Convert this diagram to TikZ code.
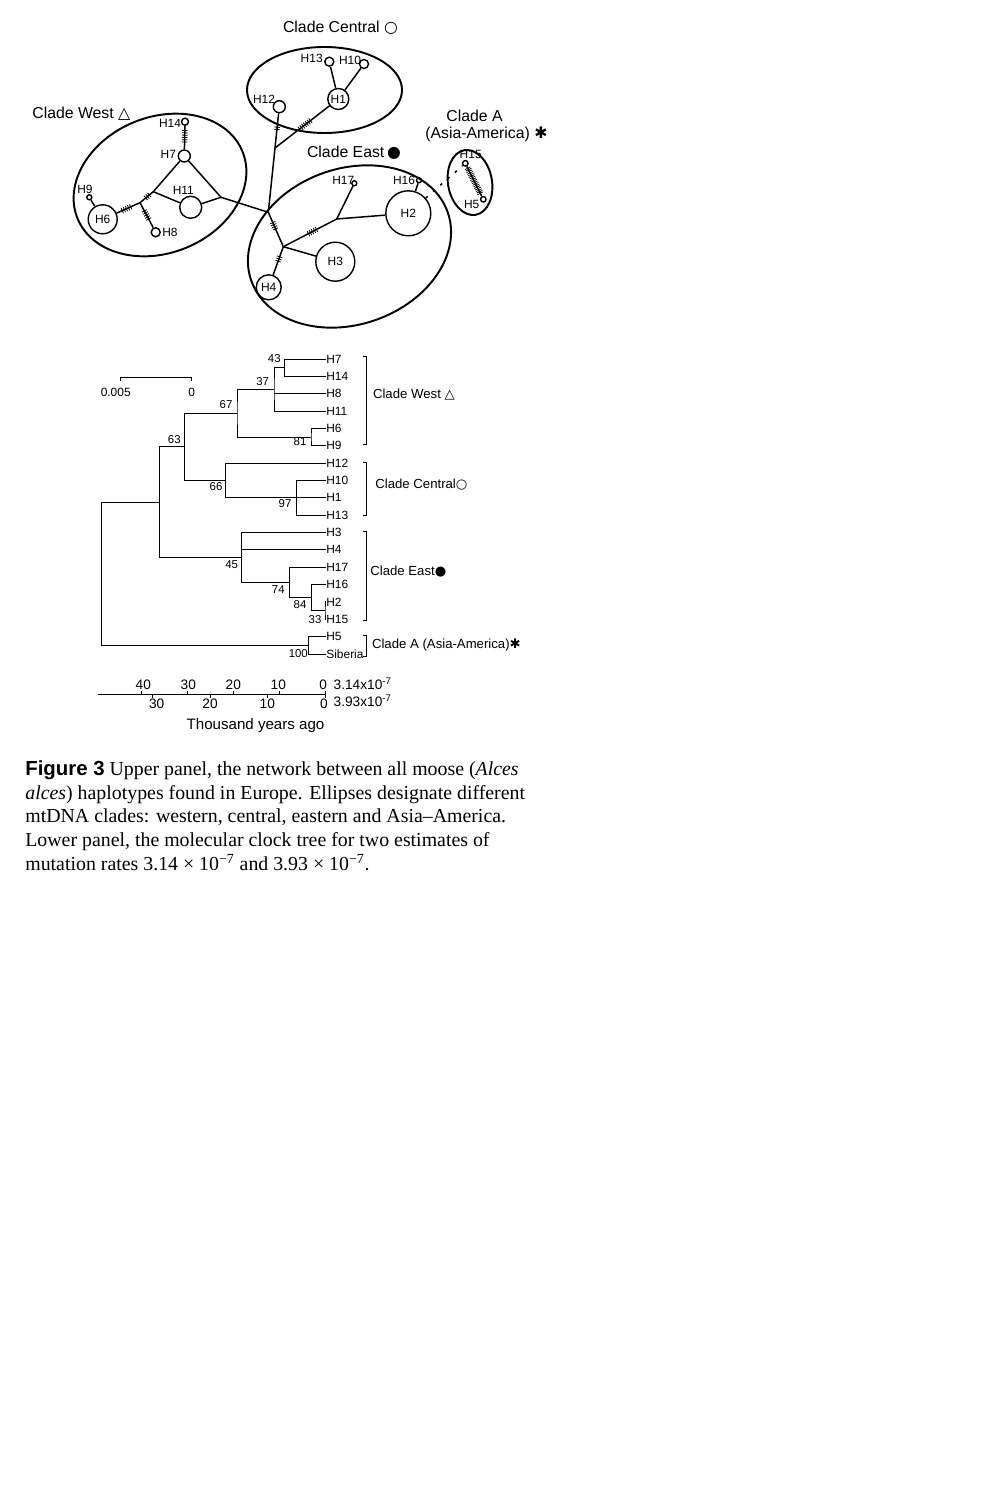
\documentclass[tikz,border=0pt]{standalone}
\usepackage{fontspec}
\setmainfont{Liberation Sans}
\setsansfont{Liberation Sans}
\newfontfamily\capfont{Liberation Serif}
\newfontfamily\symfont{DejaVu Sans}
\usetikzlibrary{calc}
\usetikzlibrary{decorations.markings}

\tikzset{mut/.style 2 args={postaction={decorate, decoration={markings,
  mark=between positions #1 and #2 step 1.3pt with {\draw[line width=0.45pt] (0,-1.6pt) -- (0,1.6pt);}}}}}
\tikzset{mutdense/.style={postaction={decorate, decoration={markings,
  mark=between positions 0.06 and 0.94 step 1pt with {\draw[line width=0.4pt] (0,-1.8pt) -- (0,1.8pt);}}}}}

\begin{document}
\begin{tikzpicture}[x=0.02cm, y=-0.02cm]

\tikzstyle{hap}=[circle, draw, line width=0.8pt, inner sep=0pt, font=\fontsize{6.8}{8}\selectfont]
\tikzstyle{hlab}=[inner sep=0pt, font=\fontsize{6.8}{8}\selectfont]
\tikzstyle{clade}=[inner sep=0pt, anchor=west, font=\fontsize{9}{11}\selectfont]
\tikzstyle{tclade}=[inner sep=0pt, anchor=west, font=\fontsize{7.5}{9}\selectfont]
\tikzstyle{link}=[line width=0.85pt]
\tikzstyle{ring}=[line width=1.1pt]
\tikzstyle{leaf}=[inner sep=0pt, anchor=west, font=\fontsize{6.8}{8}\selectfont]
\tikzstyle{boot}=[inner sep=0pt, font=\fontsize{6.5}{8}\selectfont]
\tikzstyle{branch}=[line width=0.5pt]
\tikzstyle{axislab}=[inner sep=0pt, font=\fontsize{7.8}{9}\selectfont]

\useasboundingbox (0,0) rectangle (1000,1500);

% clade ellipses
\draw[ring] (324.5,90) ellipse [x radius=77.5, y radius=43];
\draw[ring, rotate around={22:(160,185)}] (160,185) ellipse [x radius=89, y radius=68];
\draw[ring, rotate around={19:(349.5,246.5)}] (349.5,246.5) ellipse [x radius=104, y radius=78];
\draw[ring, rotate around={10:(470,182.5)}] (470,182.5) ellipse [x radius=22, y radius=32.8];

% median joining points
\coordinate (J0) at (268.3,212.3);
\coordinate (J1) at (275,148);
\coordinate (W1) at (153.3,191.7);
\coordinate (W2) at (221,197.3);
\coordinate (W3) at (140,202.7);
\coordinate (E1) at (336.7,219);
\coordinate (E2) at (283.3,246.7);

% haplotypes
\path
(329.3,61.7) node[hap, minimum size=0.18cm](H13) {}
(364,64) node[hap, minimum size=0.18cm](H10) {}
(338.3,99) node[hap, minimum size=0.42cm](H1) {H1}
(279.3,106.7) node[hap, minimum size=0.24cm](H12) {}
(185,121.7) node[hap, minimum size=0.14cm](H14) {}
(184.3,156) node[hap, minimum size=0.24cm](H7) {}
(190.7,207.3) node[hap, minimum size=0.44cm](H11) {}
(102.7,219.3) node[hap, minimum size=0.58cm](H6) {H6}
(155.7,232.3) node[hap, minimum size=0.18cm](H8) {}
(89.3,197.3) node[hap, minimum size=0.1cm](H9) {}
(354.3,183.3) node[hap, minimum size=0.1cm](H17) {}
(419,180.3) node[hap, minimum size=0.1cm](H16) {}
(408.3,213.3) node[hap, minimum size=0.9cm](H2) {H2}
(335.3,261.7) node[hap, minimum size=0.78cm](H3) {H3}
(268.7,287.3) node[hap, minimum size=0.5cm](H4) {H4}
(465.3,163.3) node[hap, minimum size=0.11cm](H15) {}
(483.3,199.3) node[hap, minimum size=0.11cm](H5) {};

\path
(311.7,58.3) node[hlab](lH13) {H13}
(350,60.7) node[hlab](lH10) {H10}
(264,99) node[hlab](lH12) {H12}
(170,123.3) node[hlab](lH14) {H14}
(168.3,154.3) node[hlab](lH7) {H7}
(183.3,190) node[hlab](lH11) {H11}
(85,189.3) node[hlab](lH9) {H9}
(170,232.3) node[hlab](lH8) {H8}
(343.3,180) node[hlab](lH17) {H17}
(404,180.7) node[hlab](lH16) {H16}
(470.7,154.3) node[hlab](lH15) {H15}
(471.7,204) node[hlab](lH5) {H5};

\path
(32,114) node[clade](cWest) {Clade West {\symfont △}}
(282.7,27.3) node[clade](cCentral) {Clade Central {\symfont ○}}
(306.7,152.7) node[clade](cEast) {Clade East\,{\symfont ●}}
(474.5,116) node[clade, anchor=center](cA) {Clade A}
(425,134) node[clade](cAsia) {(Asia-America) {\symfont ✱}};

% network links
\draw[link] (H13) -- (H1);
\draw[link] (H10) -- (H1);
\draw[link, mut={0.35}{0.55}] (H1) -- (J1);
\draw[link, mut={0.4}{0.5}] (H12) -- (J1);
\draw[link] (J1) -- (J0);
\draw[link, mut={0.2}{0.7}] (H14) -- (H7);
\draw[link] (H7) -- (W1);
\draw[link] (H7) -- (W2);
\draw[link] (W1) -- (H11);
\draw[link] (H11) -- (W2);
\draw[link] (W2) -- (J0);
\draw[link, mut={0.3}{0.6}] (W1) -- (W3);
\draw[link, mut={0.4}{0.8}] (W3) -- (H6);
\draw[link, mut={0.33}{0.67}] (W3) -- (H8);
\draw[link] (H9) -- (H6);
\draw[link, mut={0.3}{0.52}] (J0) -- (E2);
\draw[link, mut={0.47}{0.64}] (E2) -- (E1);
\draw[link] (E1) -- (H17);
\draw[link] (E1) -- (H2);
\draw[link] (H16) -- (H2);
\draw[link] (E2) -- (H3);
\draw[link, mut={0.36}{0.58}] (E2) -- (H4);
\draw[link, mutdense] (H15) -- (H5);
\draw[link, dash pattern=on 1.5pt off 4pt] (H2) -- (H15);

% tree leaves
\path
(326,359) node[leaf](tH7) {H7}
(326,376.35) node[leaf](tH14) {H14}
(326,393.7) node[leaf](tH8) {H8}
(326,411.05) node[leaf](tH11) {H11}
(326,428.4) node[leaf](tH6) {H6}
(326,445.75) node[leaf](tH9) {H9}
(326,463.1) node[leaf](tH12) {H12}
(326,480.45) node[leaf](tH10) {H10}
(326,497.8) node[leaf](tH1) {H1}
(326,515.15) node[leaf](tH13) {H13}
(326,532.5) node[leaf](tH3) {H3}
(326,549.85) node[leaf](tH4) {H4}
(326,567.2) node[leaf](tH17) {H17}
(326,584.55) node[leaf](tH16) {H16}
(326,601.9) node[leaf](tH2) {H2}
(326,619.25) node[leaf](tH15) {H15}
(326,636.6) node[leaf](tH5) {H5}
(326,653.95) node[leaf](tSib) {Siberia};

% tree splits
\coordinate (n43) at (284.3,367.7);
\coordinate (n37) at (274,389.4);
\coordinate (n81) at (311,437.1);
\coordinate (n67) at (237,413.2);
\coordinate (n97) at (296.7,497.8);
\coordinate (n66) at (225.7,480.45);
\coordinate (n63) at (184.3,446.8);
\coordinate (n33) at (325,610.6);
\coordinate (n84) at (311.7,597.6);
\coordinate (n74) at (289.3,582.4);
\coordinate (n45) at (241.3,557.45);
\coordinate (nE) at (159.3,502.1);
\coordinate (n100) at (308.3,645.3);
\coordinate (nroot) at (101.7,573.7);

\draw[branch] (tH7.west) -| (n43) |- (tH14.west);
\draw[branch] (n43) -| (n37) |- (tH11.west);
\draw[branch] (n37 |- tH8.west) -- (tH8.west);
\draw[branch] (tH6.west) -| (n81) |- (tH9.west);
\draw[branch] (n37) -| (n67) |- (n81);
\draw[branch] (tH10.west) -| (n97) |- (tH13.west);
\draw[branch] (n97) -- (tH1.west);
\draw[branch] (tH12.west) -| (n66) |- (n97);
\draw[branch] (n67) -| (n63) |- (n66);
\draw[branch] (tH2.west) -| (n33) |- (tH15.west);
\draw[branch] (tH16.west) -| (n84) |- (n33);
\draw[branch] (tH17.west) -| (n74) |- (n84);
\draw[branch] (tH3.west) -| (n45) |- (n74);
\draw[branch] (n45 |- tH4.west) -- (tH4.west);
\draw[branch] (n63) -| (nE) |- (n45);
\draw[branch] (tH5.west) -| (n100) |- (tSib.west);
\draw[branch] (nE) -| (nroot) |- (n100);

\path
(274.3,359) node[boot](b43) {43}
(262.7,381.7) node[boot](b37) {37}
(226,404.3) node[boot](b67) {67}
(300,442) node[boot](b81) {81}
(285,504) node[boot](b97) {97}
(216,486.7) node[boot](b66) {66}
(174.3,439.3) node[boot](b63) {63}
(231.7,564.3) node[boot](b45) {45}
(278.3,589.3) node[boot](b74) {74}
(300,605) node[boot](b84) {84}
(315,619.3) node[boot](b33) {33}
(298.3,654) node[boot](b100) {100};

% clade brackets
\draw[branch] (363,356) -- (366,356) -- (366,444.3) -- (363,444.3);
\draw[branch] (363,462.7) -- (366,462.7) -- (366,515) -- (363,515);
\draw[branch] (363,531.7) -- (366,531.7) -- (366,620) -- (363,620);
\draw[branch] (363,635.7) -- (366,635.7) -- (366,656.7) -- (363,656.7);

\path
(372.7,394.3) node[tclade](tWest) {Clade West {\symfont △}}
(375,485) node[tclade](tCentral) {Clade Central{\symfont ○}}
(370,571.7) node[tclade](tEast) {Clade East{\symfont ●}}
(371.7,645) node[tclade](tA) {Clade A (Asia-America){\symfont ✱}};

% distance scale
\draw[branch] (120,381) -- (120,377.7) -- (191.7,377.7) -- (191.7,381);
\path
(115.7,392.3) node[hlab](s005) {0.005}
(191.7,392.3) node[hlab](s0) {0};

% time axis
\draw[branch] (98,694) -- (325,694);
\draw[branch] (141.7,694) -- (141.7,690.5);
\draw[branch] (187.5,694) -- (187.5,690.5);
\draw[branch] (233.4,694) -- (233.4,690.5);
\draw[branch] (279.2,694) -- (279.2,690.5);
\draw[branch] (325,690.5) -- (325,697.5);
\draw[branch] (152.3,694) -- (152.3,697.5);
\draw[branch] (210,694) -- (210,697.5);
\draw[branch] (267.3,694) -- (267.3,697.5);

\path
(143.3,685) node[axislab](u40) {40}
(188.3,685) node[axislab](u30) {30}
(233.3,685) node[axislab](u20) {20}
(278.3,685) node[axislab](u10) {10}
(323.3,685) node[axislab](u0) {0}
(156.7,703.3) node[axislab](d30) {30}
(210,703.3) node[axislab](d20) {20}
(267.3,703.3) node[axislab](d10) {10}
(324,703.3) node[axislab](d0) {0}
(333.3,684) node[axislab, anchor=west](r1) {3.14x10\textsuperscript{-7}}
(333.3,701) node[axislab, anchor=west](r2) {3.93x10\textsuperscript{-7}}
(255.5,726) node[inner sep=0pt, font=\fontsize{8.6}{10}\selectfont](tya) {Thousand years ago};

% caption
\node[anchor=north west, inner sep=0pt, align=left, font={\capfont\fontsize{11.3}{13.6}\selectfont}] (caption) at (25,760)
{{\sffamily\bfseries\fontsize{11.6}{13.6}\selectfont Figure 3} Upper panel, the network between all moose (\textit{Alces}\\
\textit{alces}) haplotypes found in Europe. Ellipses designate different\\
mtDNA clades: western, central, eastern and Asia–America.\\
Lower panel, the molecular clock tree for two estimates of\\
mutation rates 3.14 × 10\textsuperscript{−7} and 3.93 × 10\textsuperscript{−7}.};

\end{tikzpicture}
\end{document}
